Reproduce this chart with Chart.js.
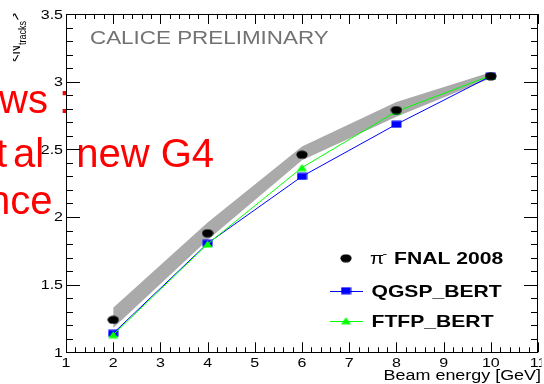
<!DOCTYPE html>
<html>
<head>
<meta charset="utf-8">
<script src="https://cdn.jsdelivr.net/npm/chart.js@4/dist/chart.umd.min.js"></script>
<style>
  html, body { margin: 0; padding: 0; background: #ffffff; }
  #wrap { position: relative; width: 544px; height: 384px; }
</style>
</head>
<body>
<div id="wrap"><canvas id="c" width="544" height="384"></canvas></div>
<script>
// Beam energies (GeV) and mean number of tracks
const energies   = [2, 4, 6, 8, 10];
const dataMean   = [1.24, 1.88, 2.46, 2.79, 3.04];
const dataSysHi  = [1.33, 1.96, 2.52, 2.85, 3.07];
const dataSysLo  = [1.18, 1.83, 2.42, 2.74, 3.025];
const qgspBert   = [1.14, 1.805, 2.30, 2.685, 3.04];
const ftfpBert   = [1.13, 1.80, 2.365, 2.78, 3.045];

// Axis ticks and labels
const xTicks      = [1, 2, 3, 4, 5, 6, 7, 8, 9, 10, 11];
const xTickLabels = ['1', '2', '3', '4', '5', '6', '7', '8', '9', '10', '11'];
const yTicks      = [1, 1.5, 2, 2.5, 3, 3.5];
const yTickLabels = ['1', '1.5', '2', '2.5', '3', '3.5'];

const legendLabels = ['FNAL 2008', 'QGSP_BERT', 'FTFP_BERT'];

// ROOT-style text is drawn horizontally widened
const SX = 1.28;
const FONT = '"Liberation Sans", Arial, Helvetica, sans-serif';

function makeMarker(w, h, draw) {
  const cv = document.createElement('canvas');
  cv.width = w; cv.height = h;
  const g = cv.getContext('2d');
  draw(g, w, h);
  return cv;
}
const dotMarker = makeMarker(12, 9, (g, w, h) => {
  g.fillStyle = '#000000';
  g.beginPath();
  g.ellipse(w / 2, h / 2, 5.6, 4.1, 0, 0, Math.PI * 2);
  g.fill();
});
const squareMarker = makeMarker(11, 8, (g, w, h) => {
  g.fillStyle = '#0000ff';
  g.fillRect(0.5, 0.5, w - 1, h - 1);
});
const triangleMarker = makeMarker(11, 8, (g, w, h) => {
  g.fillStyle = '#00ff00';
  g.beginPath();
  g.moveTo(0.5, h - 0.5);
  g.lineTo(w - 0.5, h - 0.5);
  g.lineTo(w / 2, 0.5);
  g.closePath();
  g.fill();
});

const pts = (ys) => energies.map((e, i) => ({ x: e, y: ys[i] }));

function stretchedText(ctx, txt, x, y, font, align, color) {
  ctx.save();
  ctx.translate(x, y);
  ctx.scale(SX, 1);
  ctx.font = font;
  ctx.fillStyle = color || '#000000';
  ctx.textAlign = align || 'left';
  ctx.textBaseline = 'alphabetic';
  ctx.fillText(txt, 0, 0);
  ctx.restore();
}

// Red slide text lying behind the plot frame
const slideText = {
  id: 'slideText',
  beforeDatasetsDraw(chart) {
    const ctx = chart.ctx;
    ctx.save();
    ctx.fillStyle = '#ff0000';
    ctx.font = '40px ' + FONT;
    ctx.textBaseline = 'alphabetic';
    ctx.textAlign = 'left';
    ctx.fillText('ws :', -1, 113);
    ctx.fillText('t', -4, 166.5);
    ctx.fillText('al', 13, 166.5);
    ctx.textAlign = 'right';
    ctx.fillText('new G4', 214, 166.5);
    ctx.textAlign = 'left';
    ctx.fillText('nce', -12, 213.5);
    ctx.restore();
  }
};

// Frame, inward ticks on all four sides, labels, titles and legend
const rootFrame = {
  id: 'rootFrame',
  afterDatasetsDraw(chart) {
    const ctx = chart.ctx;
    const xs = chart.scales.x, ys = chart.scales.y;
    const L = xs.left, R = xs.right, T = ys.top, B = ys.bottom;
    ctx.save();
    ctx.strokeStyle = '#000000';
    ctx.lineWidth = 1;
    ctx.beginPath();
    ctx.rect(Math.round(L) + 0.5, Math.round(T) + 0.5, Math.round(R - L) - 1, Math.round(B - T));
    ctx.stroke();

    ctx.beginPath();
    // x ticks: majors every 1, minors every 0.2
    for (let k = 0; k <= 50; k++) {
      const v = 1 + k * 0.2;
      const px = Math.round(xs.getPixelForValue(v)) + 0.5;
      const len = (k % 5 === 0) ? 10 : 5;
      ctx.moveTo(px, B); ctx.lineTo(px, B - len);
      ctx.moveTo(px, T); ctx.lineTo(px, T + len);
    }
    // y ticks: majors every 0.5, minors every 0.1
    for (let k = 0; k <= 25; k++) {
      const v = 1 + k * 0.1;
      const py = Math.round(ys.getPixelForValue(v)) + 0.5;
      const len = (k % 5 === 0) ? 14 : 7;
      ctx.moveTo(L, py); ctx.lineTo(L + len, py);
      ctx.moveTo(R, py); ctx.lineTo(R - len, py);
    }
    ctx.stroke();

    // tick labels, kept inside the pad's right edge
    ctx.save();
    ctx.beginPath();
    ctx.rect(0, 0, 541.5, 384);
    ctx.clip();
    const tickFont = '12.5px ' + FONT;
    xTicks.forEach((v, i) => {
      stretchedText(ctx, xTickLabels[i], xs.getPixelForValue(v), 366.5, tickFont, 'center');
    });
    ctx.restore();
    yTicks.forEach((v, i) => {
      stretchedText(ctx, yTickLabels[i], 63, ys.getPixelForValue(v) + 4.5, tickFont, 'right');
    });

    // axis titles
    stretchedText(ctx, 'Beam energy [GeV]', 541, 380, '14px ' + FONT, 'right');

    ctx.save();
    ctx.beginPath();
    ctx.rect(13, 0, 30, 80);
    ctx.clip();
    ctx.translate(20, 62);
    ctx.rotate(-Math.PI / 2);
    ctx.scale(1, SX);
    ctx.fillStyle = '#000000';
    ctx.textBaseline = 'alphabetic';
    ctx.font = '13px ' + FONT;
    let cx = 0;
    ctx.fillText('<N', cx, 0);
    cx += ctx.measureText('<N').width;
    ctx.font = '9px ' + FONT;
    ctx.fillText('tracks', cx, 4.5);
    cx += ctx.measureText('tracks').width + 0.5;
    ctx.font = '13px ' + FONT;
    ctx.fillText('>', cx, 0);
    ctx.restore();

    // preliminary tag
    stretchedText(ctx, 'CALICE PRELIMINARY', 90, 44, '17.5px ' + FONT, 'left', '#727272');

    // legend
    const legY = [258.3, 290.7, 320.7];
    const mx = 346;
    ctx.drawImage(dotMarker, mx - dotMarker.width / 2, legY[0] - dotMarker.height / 2);
    ctx.strokeStyle = '#0000ff';
    ctx.beginPath(); ctx.moveTo(330, Math.round(legY[1]) + 0.5); ctx.lineTo(363, Math.round(legY[1]) + 0.5); ctx.stroke();
    ctx.drawImage(squareMarker, mx - squareMarker.width / 2, legY[1] - squareMarker.height / 2);
    ctx.strokeStyle = '#00ff00';
    ctx.beginPath(); ctx.moveTo(330, Math.round(legY[2]) + 0.5); ctx.lineTo(363, Math.round(legY[2]) + 0.5); ctx.stroke();
    ctx.drawImage(triangleMarker, mx - triangleMarker.width / 2, legY[2] - triangleMarker.height / 2);

    const boldFont = 'bold 16.5px ' + FONT;
    stretchedText(ctx, '\u03C0', 370, legY[0] + 6, '16px ' + FONT, 'left');
    stretchedText(ctx, '-', 382.5, legY[0] - 1, '11px ' + FONT, 'left');
    stretchedText(ctx, legendLabels[0], 394, legY[0] + 6, boldFont, 'left');
    stretchedText(ctx, legendLabels[1], 371.5, legY[1] + 6, boldFont, 'left');
    stretchedText(ctx, legendLabels[2], 371.5, legY[2] + 6, boldFont, 'left');
    ctx.restore();
  }
};

new Chart(document.getElementById('c'), {
  type: 'line',
  data: {
    datasets: [
      {
        label: 'data',
        data: pts(dataMean),
        showLine: false,
        pointStyle: dotMarker,
        pointRadius: 5,
        borderColor: '#000000',
        backgroundColor: '#000000'
      },
      {
        label: 'FTFP_BERT',
        data: pts(ftfpBert),
        borderColor: '#00ff00',
        borderWidth: 1,
        pointStyle: triangleMarker,
        pointRadius: 5,
        fill: false,
        tension: 0
      },
      {
        label: 'QGSP_BERT',
        data: pts(qgspBert),
        borderColor: '#0000ff',
        borderWidth: 1,
        pointStyle: squareMarker,
        pointRadius: 5,
        fill: false,
        tension: 0
      },
      {
        label: 'sys high',
        data: pts(dataSysHi),
        borderColor: 'rgba(0,0,0,0)',
        borderWidth: 0,
        pointRadius: 0,
        backgroundColor: '#aaaaaa',
        fill: '+1',
        tension: 0
      },
      {
        label: 'sys low',
        data: pts(dataSysLo),
        borderColor: 'rgba(0,0,0,0)',
        borderWidth: 0,
        pointRadius: 0,
        fill: false,
        tension: 0
      }
    ]
  },
  options: {
    responsive: false,
    animation: false,
    devicePixelRatio: 1,
    layout: { padding: { left: 66, top: 14, right: 2.5, bottom: 31.7 } },
    plugins: { legend: { display: false }, tooltip: { enabled: false } },
    elements: { point: { hoverRadius: 5 } },
    scales: {
      x: { type: 'linear', min: 1, max: 11, display: false },
      y: { type: 'linear', min: 1, max: 3.5, display: false }
    }
  },
  plugins: [slideText, rootFrame]
});
</script>
</body>
</html>
